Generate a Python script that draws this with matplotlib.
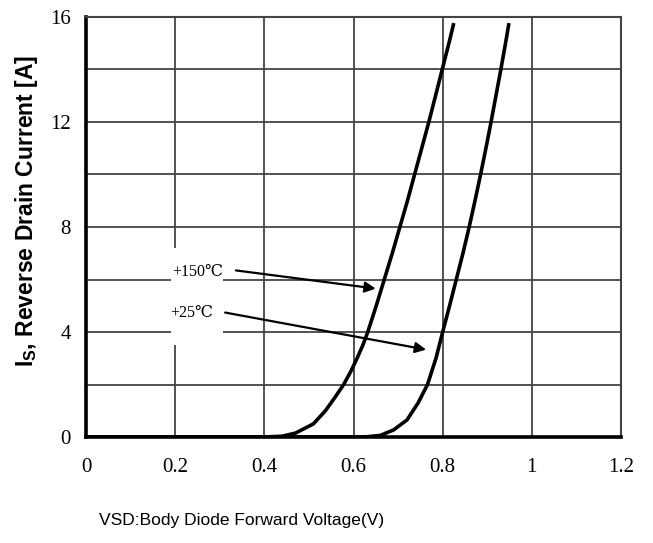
import matplotlib.pyplot as plt
from matplotlib.patches import Rectangle

plt.rcParams['mathtext.fontset'] = 'custom'
plt.rcParams['mathtext.rm'] = 'Liberation Sans'
plt.rcParams['mathtext.bf'] = 'Liberation Sans:bold'

# body diode forward characteristic
vsd_150 = [0.0, 0.40, 0.44, 0.47, 0.51, 0.537, 0.558, 0.578, 0.594, 0.608, 0.621, 0.632,
           0.651, 0.669, 0.687, 0.704, 0.721, 0.737, 0.753, 0.769, 0.784, 0.799, 0.814, 0.824]
is_150 = [0.0, 0.0, 0.03, 0.15, 0.5, 1.0, 1.5, 2.0, 2.5, 3.0, 3.5, 4.0,
          5.0, 6.0, 7.0, 8.0, 9.0, 10.0, 11.0, 12.0, 13.0, 14.0, 15.0, 15.7]
vsd_25 = [0.0, 0.60, 0.63, 0.66, 0.69, 0.72, 0.745, 0.766, 0.785, 0.80, 0.8155, 0.8305,
          0.8455, 0.8595, 0.8725, 0.885, 0.897, 0.9085, 0.9195, 0.9305, 0.941, 0.948]
is_25 = [0.0, 0.0, 0.01, 0.06, 0.27, 0.65, 1.3, 2.0, 3.0, 4.0, 5.0, 6.0,
         7.0, 8.0, 9.0, 10.0, 11.0, 12.0, 13.0, 14.0, 15.0, 15.7]

x_ticks = [0, 0.2, 0.4, 0.6, 0.8, 1, 1.2]
x_labels = ['0', '0.2', '0.4', '0.6', '0.8', '1', '1.2']
y_ticks = [0, 4, 8, 12, 16]
y_labels = ['0', '4', '8', '12', '16']
y_grid = [2, 4, 6, 8, 10, 12, 14]

serif = ['Liberation Serif', 'DejaVu Serif']

fig = plt.figure(figsize=(6.53, 5.43), dpi=100)
ax = fig.add_axes([0.1317, 0.1952, 0.8193, 0.7735])

for x in x_ticks[1:-1]:
  ax.axvline(x, color='#444444', lw=1.3, zorder=1)
for y in y_grid:
  ax.axhline(y, color='#444444', lw=1.3, zorder=1)

# label box blanks out the grid behind the annotations
ax.add_patch(Rectangle((0.19, 3.5), 0.118, 3.7, facecolor='white', edgecolor='none', zorder=2))

ax.plot(vsd_150, is_150, color='black', lw=2.6, zorder=3, solid_joinstyle='round')
ax.plot(vsd_25, is_25, color='black', lw=2.6, zorder=3, solid_joinstyle='round')

ax.text(0.193, 6.3, '+150℃', family=serif, fontsize=11.5, va='center', zorder=4)
ax.text(0.189, 4.72, '+25℃', family=serif, fontsize=11.5, va='center', zorder=4)
ax.annotate('', xy=(0.656, 5.64), xytext=(0.33, 6.36),
            arrowprops=dict(arrowstyle='-|>', color='black', lw=1.6, mutation_scale=16), zorder=4)
ax.annotate('', xy=(0.769, 3.31), xytext=(0.306, 4.76),
            arrowprops=dict(arrowstyle='-|>', color='black', lw=1.6, mutation_scale=16), zorder=4)

ax.set_xlim(0, 1.2)
ax.set_ylim(0, 16)
ax.set_xticks(x_ticks)
ax.set_xticklabels(x_labels, family=serif, fontsize=15)
ax.set_yticks(y_ticks)
ax.set_yticklabels(y_labels, family=serif, fontsize=15)
ax.tick_params(axis='x', length=0, pad=15)
ax.tick_params(axis='y', length=0, pad=11)

for side in ['left', 'bottom']:
  ax.spines[side].set_linewidth(2.6)
for side in ['top', 'right']:
  ax.spines[side].set_linewidth(1.5)
  ax.spines[side].set_color('#444444')

fig.text(0.040, 0.611, r'$\mathbf{I_S}$, Reverse Drain Current [A]', rotation=90,
         family='Liberation Sans', fontweight='bold', fontsize=16.5, ha='center', va='center')
fig.text(0.37, 0.042, 'VSD:Body Diode Forward Voltage(V)', family='Liberation Sans',
         fontsize=12.5, ha='center', va='center')

plt.savefig('out.png', dpi=100)
